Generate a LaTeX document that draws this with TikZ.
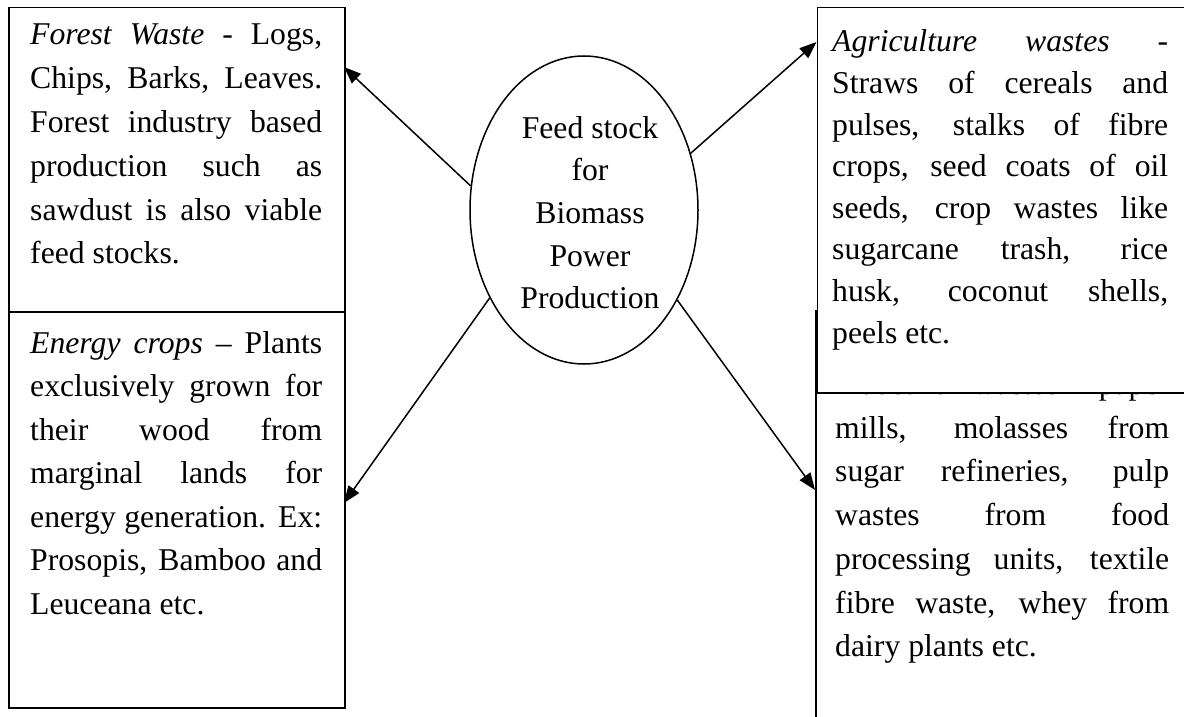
\documentclass[tikz,border=0pt]{standalone}
\usepackage{fontspec}
\setmainfont{Liberation Serif}
\usetikzlibrary{shapes.geometric,arrows.meta}

% one fully justified line of a text block
\newcommand\jl[1]{\makebox[\linewidth][s]{#1}\\}
% text block: width, baseline skip, lines
\newcommand\textblock[3]{\parbox[t]{#1}{\fontsize{31.7}{#2}\selectfont #3}}

\tikzset{
  panel/.style={draw, line width=1.5pt, fill=white, inner sep=0pt, anchor=north west},
  body/.style={inner sep=0pt, anchor=base west},
  link/.style={line width=1.5pt, -{Triangle[length=17pt,width=13pt]}},
}

\begin{document}
\begin{tikzpicture}[x=1pt,y=-1pt]
\useasboundingbox (0,0) rectangle (1184,717);
\clip (0,0) rectangle (1184,717);
\fill[white] (0,0) rectangle (1184,717);

% industrial wastes panel, partly covered by the agriculture panel
\node[panel, minimum width=377pt, minimum height=420pt] (br) at (815,310) {};
\node[body] (brtext) at (835,394.5) {\textblock{334pt}{43.7pt}{%
\jl{\textit{Industrial wastes} - paper}
\jl{mills, molasses from}
\jl{sugar refineries, pulp}
\jl{wastes from food}
\jl{processing units, textile}
\jl{fibre waste, whey from}
dairy plants etc.}};

% agriculture wastes panel
\node[panel, minimum width=376pt, minimum height=385pt] (tr) at (816.5,7) {};
\node[body] (trtext) at (832,52) {\textblock{336pt}{41.6pt}{%
\jl{\textit{Agriculture wastes} -}
\jl{Straws of cereals and}
\jl{pulses, stalks of fibre}
\jl{crops, seed coats of oil}
\jl{seeds, crop wastes like}
\jl{sugarcane trash, rice}
\jl{husk, coconut shells,}
peels etc.}};

% forest waste panel
\node[panel, minimum width=336pt, minimum height=304pt] (tl) at (8,7) {};
\node[body] (tltext) at (30,45) {\textblock{292pt}{43.8pt}{%
\jl{\textit{Forest Waste} - Logs,}
\jl{Chips, Barks, Leaves.}
\jl{Forest industry based}
\jl{production such as}
\jl{sawdust is also viable}
feed stocks.}};

% energy crops panel
\node[panel, minimum width=336pt, minimum height=396pt] (bl) at (8,311) {};
\node[body] (bltext) at (30,353) {\textblock{292pt}{43.5pt}{%
\jl{\textit{Energy crops} – Plants}
\jl{exclusively grown for}
\jl{their wood from}
\jl{marginal lands for}
\jl{energy generation. Ex:}
\jl{Prosopis, Bamboo and}
Leuceana etc.}};

% central feed stock ellipse
\node[draw, ellipse, line width=1.5pt, minimum width=228pt, minimum height=308pt, inner sep=0pt] (ell) at (584,210) {};
\node[inner sep=0pt, anchor=base] (elltext) at (590,138) {\parbox[t]{220pt}{\centering\fontsize{31.7}{42.75pt}\selectfont
Feed stock\\for\\Biomass\\Power\\Production}};

% arrow tips on the panel edges
\coordinate (tipTL) at (344,67);
\coordinate (tipTR) at (816.5,42);
\coordinate (tipBL) at (344,503);
\coordinate (tipBR) at (815,490);

\draw[link] (ell.168) -- (tipTL);
\draw[link] (ell.28) -- (tipTR);
\draw[link] (ell.223) -- (tipBL);
\draw[link] (ell.-44) -- (tipBR);
\end{tikzpicture}
\end{document}
